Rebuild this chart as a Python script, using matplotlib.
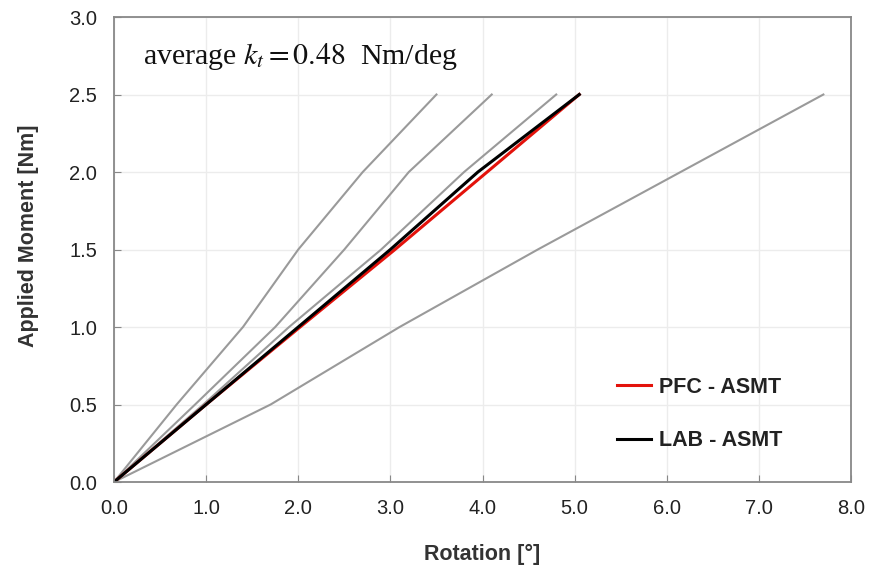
import matplotlib
matplotlib.use("Agg")
import matplotlib.pyplot as plt

# Rotation [deg] vs applied moment [Nm]
moment = [0.0, 0.5, 1.0, 1.5, 2.0, 2.5]

gray_a = [0.0, 0.68, 1.40, 2.00, 2.70, 3.50]
gray_b = [0.0, 0.88, 1.75, 2.50, 3.20, 4.10]
gray_c = [0.0, 0.97, 1.90, 2.90, 3.80, 4.80]
gray_d = [0.0, 1.70, 3.10, 4.60, 6.15, 7.70]

lab_asmt = [0.0, 1.00, 2.00, 3.00, 3.95, 5.05]
pfc_asmt = [0.0, 1.00, 2.02, 3.05, 4.05, 5.05]

xticks = [0, 1, 2, 3, 4, 5, 6, 7, 8]
yticks = [0.0, 0.5, 1.0, 1.5, 2.0, 2.5, 3.0]

plt.rcParams['font.family'] = ['Liberation Sans', 'DejaVu Sans']
plt.rcParams['mathtext.fontset'] = 'stix'

fig = plt.figure(figsize=(8.69, 5.65), dpi=100)
ax = fig.add_axes([0.1312, 0.1469, 0.8481, 0.8230])

for g in [gray_a, gray_b, gray_c, gray_d]:
    ax.plot(g, moment, color="#9a9a9a", lw=1.5)

ax.plot(pfc_asmt, moment, color="#e3120b", lw=2.2, label="PFC - ASMT")
ax.plot(lab_asmt, moment, color="black", lw=2.2, label="LAB - ASMT")

ax.set_xlim(0, 8)
ax.set_ylim(0, 3)
ax.set_xticks(xticks)
ax.set_yticks(yticks)
ax.set_xticklabels(["%.1f" % v for v in xticks])
ax.set_yticklabels(["%.1f" % v for v in yticks])
ax.tick_params(direction="in", length=5, color="#888888", labelsize=14.5,
               labelcolor="#222222", pad=12)
ax.grid(True, color="#ececec", lw=1)
for s in ax.spines.values():
    s.set_color("#888888")
    s.set_linewidth(1.3)

ax.set_xlabel("Rotation [°]", fontsize=15.5, fontweight="bold", color="#333333", labelpad=19)
ax.set_ylabel("Applied Moment [Nm]", fontsize=15.5, fontweight="bold", color="#333333", labelpad=22)
ax.yaxis.label.set_y(0.53)

ax.text(0.315, 2.70, r"average $k_t = 0.48$  Nm/deg", fontsize=21.5,
        family="Liberation Serif", color="#111111")

leg = ax.legend(loc="upper left", bbox_to_anchor=(0.6825, 0.226), frameon=False,
                fontsize=15.5, handlelength=1.6, handletextpad=0.35, labelspacing=1.5,
                borderpad=0, borderaxespad=0)
for t in leg.get_texts():
    t.set_fontweight("bold")
    t.set_color("#222222")

fig.savefig("out.png", dpi=100)
